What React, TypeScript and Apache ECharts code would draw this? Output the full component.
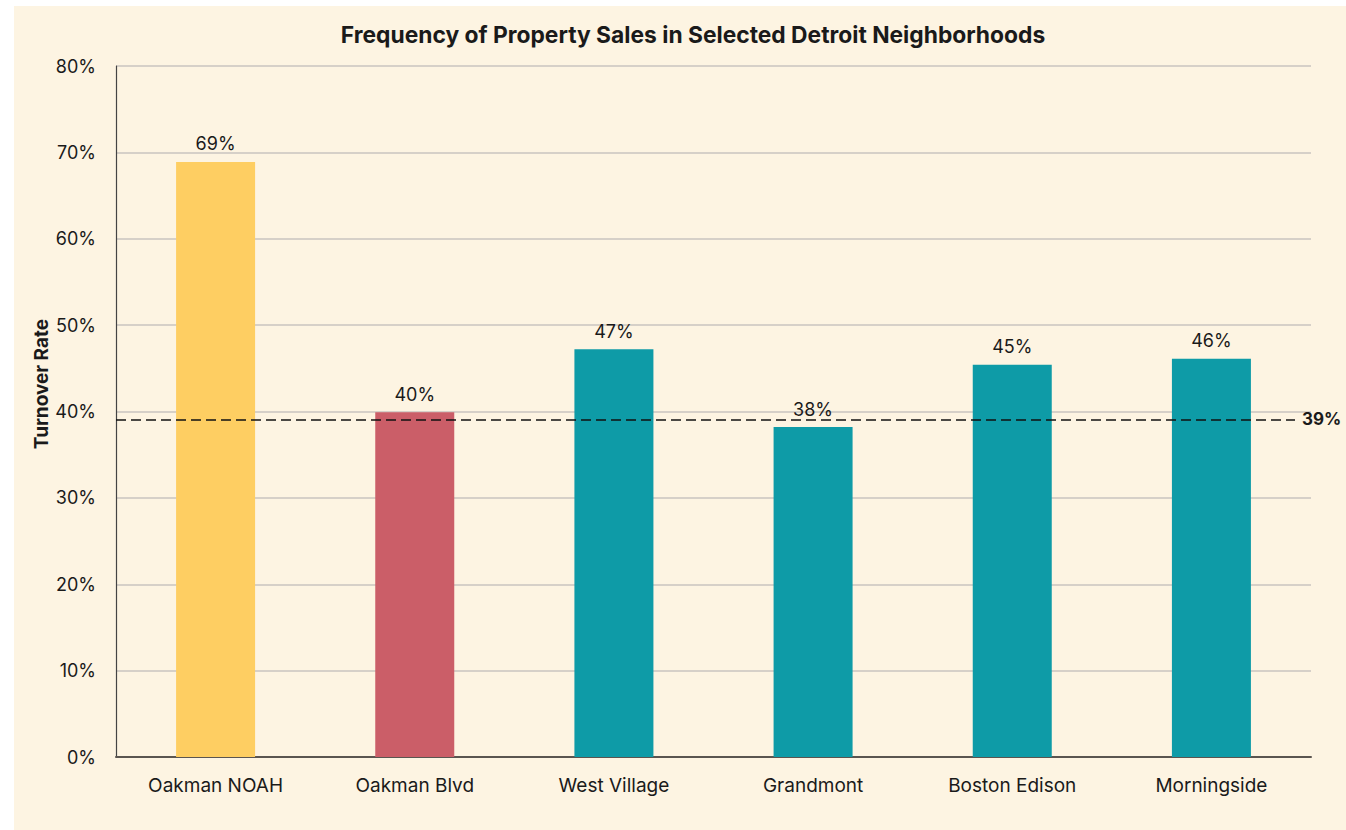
import React, { useEffect, useRef } from "react";
import * as echarts from "echarts";

const categories = ["Oakman NOAH", "Oakman Blvd", "West Village", "Grandmont", "Boston Edison", "Morningside"];
const turnoverRates = [68.9, 39.9, 47.2, 38.2, 45.4, 46.1];
const barColors = ["#FECE62", "#CB5E68", "#0E9BA7", "#0E9BA7", "#0E9BA7", "#0E9BA7"];
const averageRate = 39.1;
const yTicks = { min: 0, max: 80, interval: 10 };

const FONT = "Inter, 'Noto Sans', sans-serif";
const TEXT = "#1a1a1a";

export default function App() {
  const ref = useRef<HTMLDivElement>(null);
  useEffect(() => {
    if (!ref.current) return;
    const chart = echarts.init(ref.current, undefined, { renderer: "svg" });
    chart.setOption({
      animation: false,
      backgroundColor: "#FDF4E2",
      textStyle: { fontFamily: FONT },
      title: {
        text: "Frequency of Property Sales in Selected Detroit Neighborhoods",
        left: 674,
        top: 12,
        textAlign: "center",
        textStyle: { fontFamily: FONT, fontSize: 22.8, fontWeight: "bold", color: TEXT },
      },
      graphic: [
        {
          type: "text",
          x: 27,
          y: 378,
          rotation: Math.PI / 2,
          style: {
            text: "Turnover Rate",
            fontFamily: FONT,
            fontSize: 19,
            fontWeight: "bold",
            fill: TEXT,
            align: "center",
            verticalAlign: "middle",
          },
        },
      ],
      grid: { left: 102, right: 35, top: 60, bottom: 73 },
      xAxis: {
        type: "category",
        data: categories,
        axisLine: { lineStyle: { color: "#5a5550", width: 2 } },
        axisTick: { show: false },
        axisLabel: { color: TEXT, fontSize: 19, fontFamily: FONT, margin: 19 },
      },
      yAxis: {
        type: "value",
        min: yTicks.min,
        max: yTicks.max,
        interval: yTicks.interval,
        axisLine: { show: true, lineStyle: { color: "#444", width: 1.2 } },
        axisTick: { show: false },
        axisLabel: { color: TEXT, fontSize: 18, fontFamily: FONT, margin: 20, formatter: "{value}%" },
        splitLine: { lineStyle: { color: "#c8c5bf", width: 1.5 } },
      },
      series: [
        {
          type: "bar",
          barWidth: 79,
          data: turnoverRates.map((v, i) => ({ value: v, itemStyle: { color: barColors[i] } })),
          label: {
            show: true,
            position: "top",
            distance: 9,
            color: TEXT,
            fontSize: 18,
            fontFamily: FONT,
            formatter: (p: any) => Math.round(p.value) + "%",
          },
          markLine: {
            silent: true,
            symbol: "none",
            z: 10,
            lineStyle: { color: "#111", type: [10, 5], width: 1.5 },
            label: {
              position: "end",
              distance: 7,
              color: TEXT,
              fontSize: 17,
              fontWeight: "bold",
              fontFamily: FONT,
              formatter: () => Math.round(averageRate) + "%",
            },
            data: [[{ x: 102, yAxis: averageRate }, { x: 1281, yAxis: averageRate }]],
          },
        },
      ],
    });
    return () => chart.dispose();
  }, []);
  return (
    <div
      ref={ref}
      style={{ position: "fixed", left: 14, top: 6, width: 1332, height: 824 }}
    />
  );
}
